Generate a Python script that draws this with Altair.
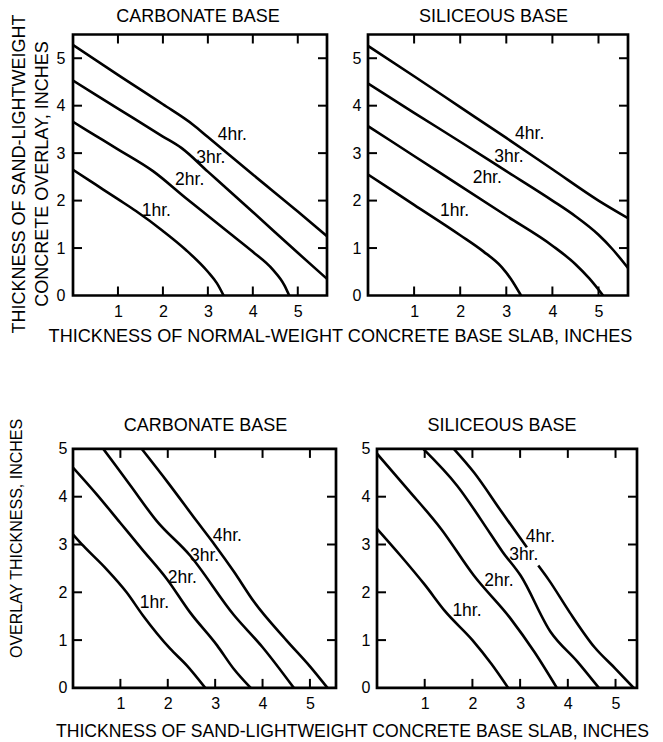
import altair as alt
import pandas as pd

FONT = "Liberation Sans"
HOURS = ["1hr.", "2hr.", "3hr.", "4hr."]
PANEL_TITLES = ["CARBONATE BASE", "SILICEOUS BASE", "CARBONATE BASE", "SILICEOUS BASE"]

# ---------- Top-left: carbonate base, normal-weight base slab ----------
tl_1_x = [0, 0.5, 1.0, 1.4, 2.0, 2.5, 3.0, 3.2, 3.35]
tl_1_y = [2.65, 2.34, 2.03, 1.78, 1.36, 0.97, 0.5, 0.26, 0.0]
tl_2_x = [0, 0.5, 1.0, 1.78, 2.5, 3.0, 3.5, 4.0, 4.44, 4.7, 4.81]
tl_2_y = [3.66, 3.37, 3.08, 2.62, 2.06, 1.68, 1.3, 0.92, 0.55, 0.22, 0.0]
tl_3_x = [0, 1.0, 2.0, 2.41, 3.0, 4.0, 5.0, 5.65]
tl_3_y = [4.53, 3.94, 3.35, 3.11, 2.61, 1.76, 0.9, 0.35]
tl_4_x = [0, 1.0, 2.0, 2.67, 3.0, 4.0, 5.0, 5.65]
tl_4_y = [5.28, 4.65, 4.03, 3.6, 3.34, 2.55, 1.77, 1.25]
tl_lab_x = [1.53, 2.27, 2.74, 3.22]
tl_lab_y = [1.79, 2.44, 2.9, 3.39]

# ---------- Top-right: siliceous base, normal-weight base slab ----------
tr_1_x = [0, 1.0, 2.0, 2.5, 2.9, 3.1, 3.32]
tr_1_y = [2.55, 1.91, 1.27, 0.93, 0.6, 0.35, 0.0]
tr_2_x = [0, 1.0, 2.0, 3.0, 4.0, 4.5, 4.8, 5.1]
tr_2_y = [3.57, 2.94, 2.31, 1.68, 1.05, 0.66, 0.36, 0.0]
tr_3_x = [0, 1.0, 2.0, 3.0, 4.0, 4.5, 5.0, 5.3, 5.64]
tr_3_y = [4.47, 3.85, 3.24, 2.62, 2.0, 1.67, 1.28, 0.98, 0.58]
tr_4_x = [0, 1.0, 2.0, 3.0, 4.0, 5.0, 5.64]
tr_4_y = [5.26, 4.62, 3.97, 3.32, 2.66, 2.0, 1.63]
tr_lab_x = [1.56, 2.27, 2.74, 3.19]
tr_lab_y = [1.79, 2.48, 2.92, 3.4]

# ---------- Bottom-left: carbonate base, sand-lightweight base slab ----------
bl_1_x = [0, 0.21, 0.7, 1.13, 1.48, 2.05, 2.4, 2.79]
bl_1_y = [3.21, 2.98, 2.49, 2.0, 1.51, 0.82, 0.47, 0.0]
bl_2_x = [0, 0.5, 1.0, 1.45, 1.98, 2.47, 3.04, 3.39, 3.75]
bl_2_y = [4.61, 4.05, 3.45, 2.91, 2.28, 1.58, 0.89, 0.4, 0.0]
bl_3_x = [0.64, 1.2, 1.76, 2.47, 3.39, 4.0, 4.66]
bl_3_y = [5.0, 4.25, 3.5, 2.77, 1.53, 0.85, 0.0]
bl_4_x = [1.45, 2.0, 2.61, 3.0, 3.39, 3.82, 4.5, 5.0, 5.37]
bl_4_y = [5.0, 4.3, 3.49, 2.98, 2.44, 1.8, 1.0, 0.45, 0.0]
bl_lab_x = [1.41, 2.0, 2.47, 2.95]
bl_lab_y = [1.77, 2.3, 2.75, 3.17]

# ---------- Bottom-right: siliceous base, sand-lightweight base slab ----------
br_1_x = [0, 0.5, 1.0, 1.43, 2.0, 2.4, 2.75]
br_1_y = [3.33, 2.76, 2.16, 1.6, 1.0, 0.5, 0.0]
br_2_x = [0, 0.64, 1.34, 2.03, 2.8, 3.3, 3.77]
br_2_y = [4.9, 4.16, 3.33, 2.35, 1.45, 0.75, 0.0]
br_3_x = [0.97, 1.68, 2.38, 2.63, 3.01, 3.64, 4.2, 4.65]
br_3_y = [5.0, 4.23, 3.22, 2.85, 2.35, 1.17, 0.55, 0.0]
# the 4 hr. curve is broken where the "3hr." label sits
br_4a_x = [1.61, 2.03, 2.6, 3.14]
br_4a_y = [5.0, 4.51, 3.7, 2.94]
br_4b_x = [3.38, 3.6, 4.04, 4.56, 5.0, 5.38]
br_4b_y = [2.56, 2.26, 1.58, 0.85, 0.4, 0.0]
br_lab_x = [1.58, 2.25, 2.77, 3.12]
br_lab_y = [1.6, 2.23, 2.77, 3.15]

X_TICKS = [1, 2, 3, 4, 5]
Y_TICKS = [0, 1, 2, 3, 4, 5]

TOP_X_TITLE = "THICKNESS OF NORMAL-WEIGHT CONCRETE BASE SLAB, INCHES"
BOT_X_TITLE = "THICKNESS OF SAND-LIGHTWEIGHT CONCRETE BASE SLAB, INCHES"
TOP_Y_TITLE = ["THICKNESS OF SAND-LIGHTWEIGHT", "CONCRETE OVERLAY, INCHES"]
BOT_Y_TITLE = "OVERLAY THICKNESS, INCHES"


def curves_df(names, xs_list, ys_list):
    rows = []
    for name, xs, ys in zip(names, xs_list, ys_list):
        for a, b in zip(xs, ys):
            rows.append({"x": a, "y": b, "curve": name})
    return pd.DataFrame(rows)


def spacer(x, y):
    # invisible 1px rule that fixes the layout bounds of a panel
    return alt.Chart(pd.DataFrame({"k": [0]})).mark_rule(
        color="white", strokeWidth=0.5
    ).encode(x=alt.value(x), x2=alt.value(x + 1), y=alt.value(y))


def panel(names, xs_list, ys_list, lab_x, lab_y, w, h, xmax, ymax,
          title, title_cx, title_cy, xaxis, yaxis, spacers=()):
    xs = alt.Scale(domain=[0, xmax], nice=False, zero=False)
    ys = alt.Scale(domain=[0, ymax], nice=False, zero=False)
    X = alt.X("x:Q", scale=xs, axis=xaxis)
    Y = alt.Y("y:Q", scale=ys, axis=yaxis)

    lines = alt.Chart(curves_df(names, xs_list, ys_list)).mark_line(
        color="black", strokeWidth=2.6, interpolate="monotone", clip=True
    ).encode(x=X, y=Y, detail="curve:N")

    labels = alt.Chart(pd.DataFrame({"x": lab_x, "y": lab_y, "label": HOURS})).mark_text(
        align="left", baseline="middle", fontSize=17.5, font=FONT, color="black"
    ).encode(x=X, y=Y, text="label:N")

    ttl = alt.Chart(pd.DataFrame({"t": [title]})).mark_text(
        align="center", baseline="middle", fontSize=18, font=FONT, color="black"
    ).encode(x=alt.value(title_cx), y=alt.value(title_cy), text="t:N")

    xt = pd.DataFrame({"x": X_TICKS})
    yt = pd.DataFrame({"y": [v for v in Y_TICKS if 0 < v < ymax]})
    tick = dict(color="black", strokeWidth=2)
    xb = alt.Chart(xt).mark_rule(**tick).encode(x=X, y=alt.value(h), y2=alt.value(h - 9))
    xtp = alt.Chart(xt).mark_rule(**tick).encode(x=X, y=alt.value(0), y2=alt.value(9))
    yl = alt.Chart(yt).mark_rule(**tick).encode(y=Y, x=alt.value(0), x2=alt.value(9))
    yr = alt.Chart(yt).mark_rule(**tick).encode(y=Y, x=alt.value(w - 9), x2=alt.value(w))

    layers = [lines, labels, ttl, xb, xtp, yl, yr] + [spacer(a, b) for a, b in spacers]
    return alt.layer(*layers).properties(width=w, height=h)


def xaxis(pad, title=None, tx=0, ty=0, fs=18):
    kw = dict(values=X_TICKS, ticks=False, tickSize=0, domain=False, grid=False,
              labelFontSize=16, labelFont=FONT, labelColor="black", labelPadding=pad,
              labelFlush=False, labelOverlap=False)
    if title is None:
        return alt.Axis(title=None, **kw)
    return alt.Axis(title=title, titleX=tx, titleY=ty, titleAlign="center",
                    titleBaseline="middle", titleFontSize=fs, titleFont=FONT,
                    titleFontWeight="normal", titleColor="black", **kw)


def yaxis(pad, title=None, tx=0, ty=0, fs=18, lh=23):
    kw = dict(values=Y_TICKS, ticks=False, tickSize=0, domain=False, grid=False,
              labelFontSize=16, labelFont=FONT, labelColor="black", labelPadding=pad,
              labelFlush=False, labelOverlap=False)
    if title is None:
        return alt.Axis(title=None, **kw)
    return alt.Axis(title=title, titleX=tx, titleY=ty, titleBaseline="middle",
                    titleAlign="center", titleAngle=270,
                    titleFontSize=fs, titleFont=FONT, titleFontWeight="normal",
                    titleColor="black", titleLineHeight=lh, **kw)


tl = panel(HOURS, [tl_1_x, tl_2_x, tl_3_x, tl_4_x], [tl_1_y, tl_2_y, tl_3_y, tl_4_y],
           tl_lab_x, tl_lab_y, 254, 261, 5.65, 5.5,
           PANEL_TITLES[0], 125, -17.8, xaxis(8, TOP_X_TITLE, 267, 41, 18.1),
           yaxis(8, TOP_Y_TITLE, -54, 139, 18, 23),
           spacers=[(-100, -40), (0, 321)])
tr = panel(HOURS, [tr_1_x, tr_2_x, tr_3_x, tr_4_x], [tr_1_y, tr_2_y, tr_3_y, tr_4_y],
           tr_lab_x, tr_lab_y, 260, 261, 5.64, 5.5,
           PANEL_TITLES[1], 125.5, -17.8, xaxis(8), yaxis(7))
bl = panel(HOURS, [bl_1_x, bl_2_x, bl_3_x, bl_4_x], [bl_1_y, bl_2_y, bl_3_y, bl_4_y],
           bl_lab_x, bl_lab_y, 263, 239, 5.55, 5.0,
           PANEL_TITLES[2], 132.5, -23.2, xaxis(8, BOT_X_TITLE, 279, 44, 17.6),
           yaxis(6, BOT_Y_TITLE, -57, 89, 16, 20),
           spacers=[(-92, -45)])
br = panel(["1hr.", "2hr.", "3hr.", "4hr. a", "4hr. b"],
           [br_1_x, br_2_x, br_3_x, br_4a_x, br_4b_x],
           [br_1_y, br_2_y, br_3_y, br_4a_y, br_4b_y],
           br_lab_x, br_lab_y, 260, 239, 5.45, 5.0,
           PANEL_TITLES[3], 125, -23.2, xaxis(8), yaxis(7))

top = alt.hconcat(tl, tr, spacing=41, bounds="flush")
bottom = alt.hconcat(bl, br, spacing=41, bounds="flush")

chart = alt.concat(top, bottom, columns=1, align="none", spacing=44.4).properties(
    padding={"left": -37, "top": -15.5, "right": 0, "bottom": 0},
    background="white",
).configure_view(
    stroke="black", strokeWidth=2.7
).configure_axis(
    grid=False
)

chart.save("out.html", embed_options={"renderer": "svg", "actions": False})
